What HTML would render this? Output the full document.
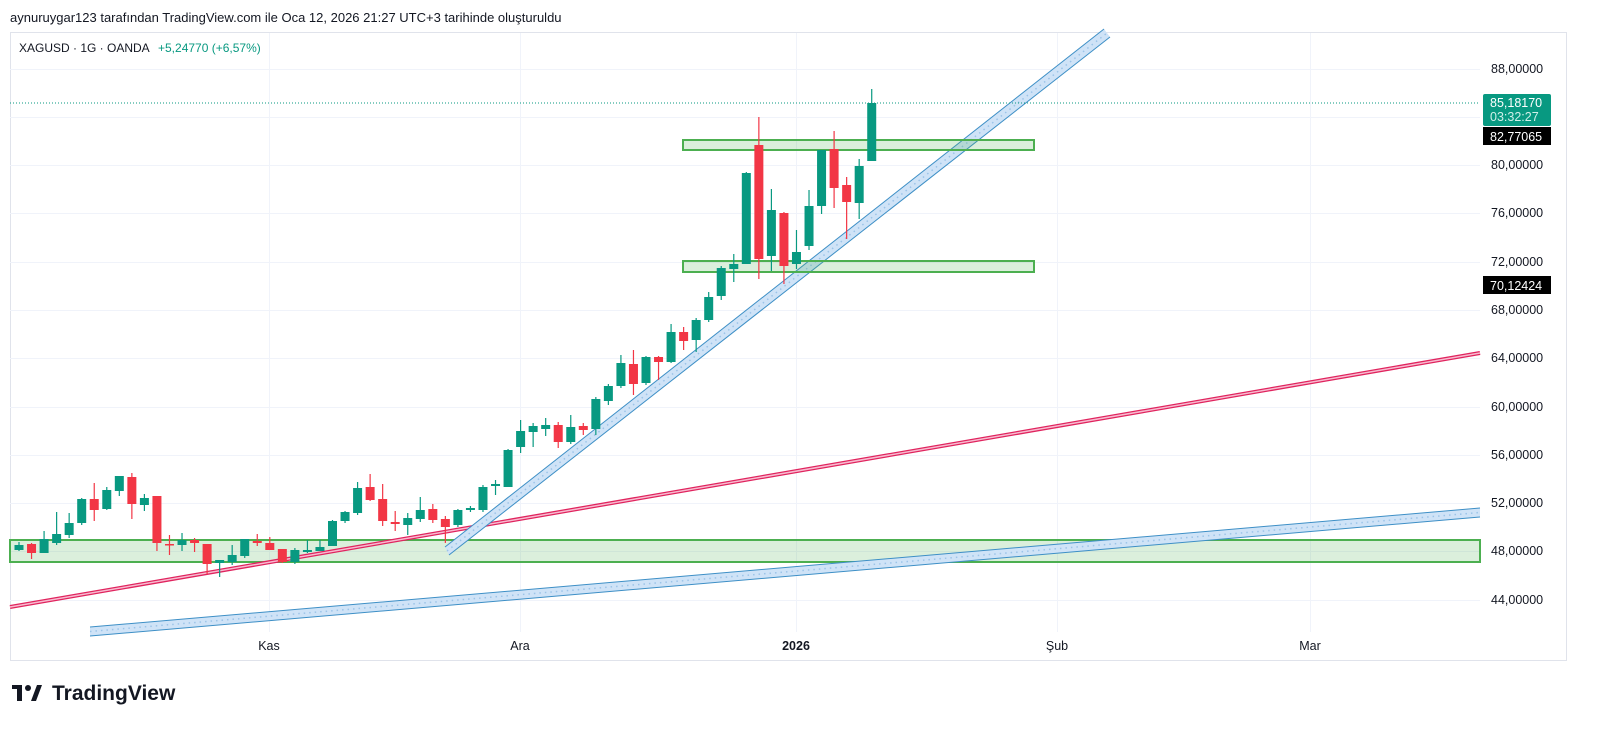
<!DOCTYPE html>
<html><head><meta charset="utf-8"><style>
html,body{margin:0;padding:0;background:#fff;width:1600px;height:741px;overflow:hidden;font-family:"Liberation Sans",sans-serif}
</style></head><body>
<svg id="s" width="1600" height="741" xmlns="http://www.w3.org/2000/svg" font-family="Liberation Sans, sans-serif">
<rect width="1600" height="741" fill="#fff"/>
<text x="10" y="22" font-size="13" fill="#131722">aynuruygar123 tarafından TradingView.com ile Oca 12, 2026 21:27 UTC+3 tarihinde oluşturuldu</text>
<rect x="10.5" y="32.5" width="1556" height="628" fill="none" stroke="#e0e3eb"/>
<g id="grid" stroke="#f0f3fa" stroke-width="1"></g>
<text x="19" y="52" font-size="12" fill="#131722">XAGUSD · 1G · OANDA</text>
<text x="158" y="52" font-size="12" fill="#089981">+5,24770 (+6,57%)</text>
<!-- green band -->
<rect x="10" y="540" width="1470" height="22" fill="rgba(76,175,80,0.2)" stroke="#4caf50" stroke-width="2"/>
<!-- lower blue channel -->
<polygon points="90,627 1480,508 1480,517 90,636" fill="#cfe3f7"/>
<line x1="90" y1="627" x2="1480" y2="508" stroke="#3d8fc6" stroke-width="1"/>
<line x1="90" y1="636" x2="1480" y2="517" stroke="#3d8fc6" stroke-width="1"/>
<line x1="90" y1="631.5" x2="1480" y2="512.5" stroke="#9cc4e8" stroke-width="1.5" stroke-dasharray="1.5,4"/>
<!-- pink line -->
<line x1="10" y1="607" x2="1480" y2="353" stroke="#e0245e" stroke-width="4"/>
<line x1="10" y1="607" x2="1480" y2="353" stroke="#f8bbd0" stroke-width="1.5"/>
<!-- steep blue channel -->
<polygon points="445,547 1104,29 1110,37 449,555" fill="#cfe3f7"/>
<line x1="445" y1="547" x2="1104" y2="29" stroke="#3d8fc6" stroke-width="1"/>
<line x1="449" y1="555" x2="1110" y2="37" stroke="#3d8fc6" stroke-width="1"/>
<line x1="447" y1="551" x2="1107" y2="33" stroke="#9cc4e8" stroke-width="1.5" stroke-dasharray="1.5,4"/>
<!-- small boxes -->
<rect x="683" y="140" width="351" height="10" fill="rgba(76,175,80,0.2)" stroke="#4caf50" stroke-width="2"/>
<rect x="683" y="261" width="351" height="11" fill="rgba(76,175,80,0.2)" stroke="#4caf50" stroke-width="2"/>
<!-- dotted last price -->
<line x1="10" y1="103" x2="1480" y2="103" stroke="#089981" stroke-width="1" stroke-dasharray="1,2"/>
<g id="c"></g>
<!-- price labels -->
<g font-size="12.5" fill="#131722">
<text x="1491" y="73">88,00000</text>
<text x="1491" y="169">80,00000</text>
<text x="1491" y="217">76,00000</text>
<text x="1491" y="266">72,00000</text>
<text x="1491" y="314">68,00000</text>
<text x="1491" y="362">64,00000</text>
<text x="1491" y="411">60,00000</text>
<text x="1491" y="459">56,00000</text>
<text x="1491" y="507">52,00000</text>
<text x="1491" y="555">48,00000</text>
<text x="1491" y="604">44,00000</text>
</g>
<rect x="1483" y="94" width="68" height="32" rx="2" fill="#089981"/>
<text x="1490" y="107" font-size="12.5" fill="#fff">85,18170</text>
<text x="1490" y="121" font-size="12.5" fill="#d0efe9">03:32:27</text>
<rect x="1483" y="127" width="68" height="18" fill="#000"/>
<text x="1490" y="141" font-size="12.5" fill="#fff">82,77065</text>
<rect x="1483" y="276" width="68" height="18" fill="#000"/>
<text x="1490" y="290" font-size="12.5" fill="#fff">70,12424</text>
<!-- time labels -->
<g font-size="12.5" fill="#131722" text-anchor="middle">
<text x="269" y="650">Kas</text>
<text x="520" y="650">Ara</text>
<text x="796" y="650" font-weight="bold">2026</text>
<text x="1057" y="650">Şub</text>
<text x="1310" y="650">Mar</text>
</g>
<!-- logo -->
<g fill="#131722">
<rect x="12" y="685" width="10" height="4"/><rect x="17" y="685" width="5" height="16"/>
<circle cx="28" cy="688" r="3"/>
<polygon points="31,701 37,685 42,685 36,701"/>
<text x="52" y="700" font-size="21" font-weight="bold">TradingView</text>
</g>
</svg>
<script>
var NS="http://www.w3.org/2000/svg";
var g=document.getElementById('grid');
[69,117,165,213,262,310,358,407,455,503,551,600].forEach(function(y){var l=document.createElementNS(NS,'line');l.setAttribute('x1',10);l.setAttribute('x2',1480);l.setAttribute('y1',y+.5);l.setAttribute('y2',y+.5);g.appendChild(l);});
[269,520,796,1057,1310].forEach(function(x){var l=document.createElementNS(NS,'line');l.setAttribute('x1',x+.5);l.setAttribute('x2',x+.5);l.setAttribute('y1',33);l.setAttribute('y2',632);g.appendChild(l);});
var d=[
['G',545,550,542,551],['R',544,553,543,559],['G',539,553,531,553],['G',534,543,512,545],['G',523,535,513,538],
['G',499,523,498,525],['R',499,510,483,521],['G',490,509,487,510],['G',476,491,476,496],['R',477,504,473,519],
['G',498,505,494,511],['R',496,543,496,551],['R',544,545,535,555],['G',540,545,533,551],['R',540,543,538,552],
['R',544,564,544,574],['G',560,563,560,577],['G',555,562,545,565],['G',539,556,539,558],['R',541,543,534,546],
['R',543,550,537,550],['R',549,562,549,563],['G',550,562,548,564],['G',550,552,540,553],['G',547,551,540,551],
['G',521,546,520,546],['G',512,521,511,523],['G',488,513,482,515],['R',487,500,474,501],['R',499,521,484,526],
['R',522,524,511,531],['G',518,525,513,535],['G',510,519,497,522],['R',509,520,504,523],['R',519,527,516,543],
['G',510,525,509,527],['G',508,510,506,512],['G',487,510,485,512],['G',484,486,480,495],['G',450,487,449,487],
['G',431,447,420,453],['G',426,432,423,447],['G',425,429,418,436],['R',425,442,422,448],['G',427,442,415,444],
['R',426,430,423,435],['G',399,429,397,435],['G',386,401,384,405],['G',363,386,355,388],['R',364,384,350,395],
['G',357,383,356,385],['R',357,362,356,380],['G',332,362,324,363],['R',332,341,327,350],['G',320,340,318,352],
['G',297,320,292,322],['G',268,296,266,300],['G',264,269,254,282],['G',173,264,172,264],['R',145,259,117,279],
['G',210,256,189,271],['R',213,266,212,284],['G',252,264,230,269],['G',206,246,190,250],['G',150,206,150,214],
['R',149,188,131,208],['R',185,202,177,239],['G',166,203,159,219],['G',103,161,89,161]];
var c=document.getElementById('c');
d.forEach(function(k,i){var x=19+i*12.54;var col=k[0]=='G'?'#089981':'#f23645';
var w=document.createElementNS(NS,'line');w.setAttribute('x1',x);w.setAttribute('x2',x);w.setAttribute('y1',k[3]);w.setAttribute('y2',k[4]);w.setAttribute('stroke',col);w.setAttribute('stroke-width',1.2);c.appendChild(w);
var r=document.createElementNS(NS,'rect');r.setAttribute('x',x-4.5);r.setAttribute('width',9);r.setAttribute('y',k[1]);r.setAttribute('height',Math.max(1.5,k[2]-k[1]));r.setAttribute('fill',col);c.appendChild(r);});
</script>
</body></html>
